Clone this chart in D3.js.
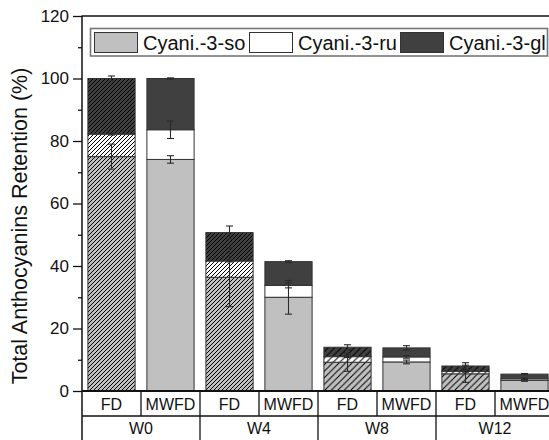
<!DOCTYPE html>
<html>
<head>
<meta charset="utf-8">
<script src="https://cdn.jsdelivr.net/npm/d3@7"></script>
<style>
  html, body { margin: 0; padding: 0; background: #fff; }
  svg { display: block; font-family: "Liberation Sans", Arial, sans-serif; }
</style>
</head>
<body>
<svg id="chart" width="549" height="440"></svg>
<script>
// Storage weeks and drying methods
const weeks = ["W0", "W4", "W8", "W12"];
const methods = ["FD", "MWFD"];
const seriesNames = ["Cyani.-3-so", "Cyani.-3-ru", "Cyani.-3-gl"];

// Retention contribution of each anthocyanin (%), ordered W0-FD, W0-MWFD, W4-FD, ...
const soValues = [75.0, 74.1, 36.4, 30.0, 9.2, 9.3, 5.5, 3.4];
const ruValues = [7.2, 9.5, 5.2, 3.8, 1.8, 1.6, 0.8, 0.5];
const glValues = [17.8, 16.4, 9.1, 7.6, 3.0, 2.9, 1.7, 1.5];

// Standard deviations, drawn at the cumulative top of each segment
const soErrors = [4.0, 1.2, 9.4, 5.4, 2.9, 0.6, 2.75, 0.3];
const ruErrors = [0.3, 2.8, 0.3, 0.8, 0.3, 0.4, 0.3, 0.2];
const glErrors = [0.8, 0.2, 2.1, 0.3, 0.8, 0.7, 1.06, 0.2];

const yTicks = [0, 20, 40, 60, 80, 100, 120];
const yMinorTicks = [10, 30, 50, 70, 90, 110];

const rows = [];
weeks.forEach((w, wi) => methods.forEach((m, mi) => {
  const i = wi * methods.length + mi;
  rows.push({
    key: w + "|" + m, week: w, method: m,
    "Cyani.-3-so": soValues[i], "Cyani.-3-ru": ruValues[i], "Cyani.-3-gl": glValues[i],
    err: [soErrors[i], ruErrors[i], glErrors[i]]
  });
}));

const svg = d3.select("#chart");
const plotLeft = 82, plotRight = 554, plotTop = 16, plotBottom = 391;
const row1 = 416, tableBottom = 440;

const x = d3.scaleBand().domain(rows.map(d => d.key)).range([plotLeft, plotRight])
  .paddingInner(0.2).paddingOuter(0.1);
const y = d3.scaleLinear().domain([0, 120]).range([plotBottom, plotTop]);

const fills = { "Cyani.-3-so": "#c0c0c0", "Cyani.-3-ru": "#ffffff", "Cyani.-3-gl": "#404040" };

// Diagonal hatching for the freeze-dried bars; coarser on the short bars
const defs = svg.append("defs");
function hatch(id, s) {
  const p = defs.append("pattern").attr("id", id)
    .attr("patternUnits", "userSpaceOnUse").attr("width", s).attr("height", s);
  p.append("path")
    .attr("d", `M0,${s} L${s},0 M-1,1 L1,-1 M${s - 1},${s + 1} L${s + 1},${s - 1}`)
    .attr("stroke", "#000").attr("stroke-width", 1).attr("fill", "none");
}
hatch("hatchFine", 4);
hatch("hatchCoarse", 6.5);
const hatchFor = { W0: "hatchFine", W4: "hatchFine", W8: "hatchCoarse", W12: "hatchCoarse" };

const stacked = d3.stack().keys(seriesNames)(rows);

const g = svg.append("g");
stacked.forEach((layer, li) => {
  const name = seriesNames[li];
  layer.forEach(seg => {
    const d = seg.data;
    const bx = x(d.key), bw = x.bandwidth();
    const by = y(seg[1]), bh = y(seg[0]) - y(seg[1]);
    g.append("rect").attr("x", bx).attr("y", by).attr("width", bw).attr("height", bh)
      .attr("fill", fills[name]);
    if (d.method === "FD") {
      g.append("rect").attr("x", bx).attr("y", by).attr("width", bw).attr("height", bh)
        .attr("fill", `url(#${hatchFor[d.week]})`);
    }
    g.append("rect").attr("x", bx).attr("y", by).attr("width", bw).attr("height", bh)
      .attr("fill", "none").attr("stroke", "#333").attr("stroke-width", 1);
  });
});

// Error bars
const eb = svg.append("g").attr("stroke", "#2a2a2a").attr("stroke-width", 1.1);
stacked.forEach((layer, li) => {
  layer.forEach(seg => {
    const d = seg.data;
    const cx = x(d.key) + x.bandwidth() / 2;
    const e = d.err[li];
    const y1 = y(seg[1] + e), y0 = y(seg[1] - e);
    eb.append("line").attr("x1", cx).attr("x2", cx).attr("y1", y1).attr("y2", y0);
    eb.append("line").attr("x1", cx - 3.5).attr("x2", cx + 3.5).attr("y1", y1).attr("y2", y1);
    eb.append("line").attr("x1", cx - 3.5).attr("x2", cx + 3.5).attr("y1", y0).attr("y2", y0);
  });
});

// Y axis
const yAxis = d3.axisLeft(y).tickValues(yTicks).tickSize(9).tickPadding(4).tickFormat(d3.format("d"));
const ya = svg.append("g").attr("transform", `translate(${plotLeft},0)`).call(yAxis);
ya.select(".domain").remove();
ya.selectAll(".tick line").attr("stroke", "#111").attr("stroke-width", 1.3);
ya.selectAll(".tick text").attr("font-size", 17).attr("fill", "#111")
  .attr("font-family", "Liberation Sans, Arial, sans-serif");
const yMinor = d3.axisLeft(y).tickValues(yMinorTicks).tickSize(4).tickFormat("");
const ym = svg.append("g").attr("transform", `translate(${plotLeft},0)`).call(yMinor);
ym.select(".domain").remove();
ym.selectAll(".tick line").attr("stroke", "#111").attr("stroke-width", 1.3);

// Frame: left axis, top border
svg.append("line").attr("x1", plotLeft).attr("x2", plotLeft).attr("y1", plotTop).attr("y2", tableBottom)
  .attr("stroke", "#111").attr("stroke-width", 1.5);
svg.append("line").attr("x1", plotLeft - 0.5).attr("x2", 549).attr("y1", plotTop).attr("y2", plotTop)
  .attr("stroke", "#111").attr("stroke-width", 1.5);

// Category table below the axis
const tbl = svg.append("g").attr("stroke", "#111");
tbl.append("line").attr("x1", plotLeft).attr("x2", 549).attr("y1", plotBottom).attr("y2", plotBottom).attr("stroke-width", 2.2);
tbl.append("line").attr("x1", plotLeft).attr("x2", 549).attr("y1", row1).attr("y2", row1).attr("stroke-width", 1.3);
const step = x.step();
const colStart = i => plotLeft + i * step;
rows.forEach((d, i) => {
  if (i === 0) return;
  const isGroupEdge = i % methods.length === 0;
  tbl.append("line").attr("x1", colStart(i)).attr("x2", colStart(i))
    .attr("y1", plotBottom).attr("y2", isGroupEdge ? tableBottom : row1).attr("stroke-width", 1.3);
});
const labels = svg.append("g").attr("fill", "#111").attr("font-size", 16).attr("text-anchor", "middle");
rows.forEach((d, i) => {
  labels.append("text").attr("x", colStart(i) + step / 2).attr("y", 409.5).text(d.method);
});
weeks.forEach((w, wi) => {
  labels.append("text").attr("x", colStart(wi * methods.length) + step * methods.length / 2)
    .attr("y", 433.5).text(w);
});

// Y axis title
svg.append("text").attr("transform", "rotate(-90)").attr("x", -226).attr("y", 27)
  .attr("text-anchor", "middle").attr("font-size", 21.5).attr("fill", "#111")
  .text("Total Anthocyanins Retention (%)");

// Legend
const lg = svg.append("g");
lg.append("rect").attr("x", 90.5).attr("y", 28.5).attr("width", 457).attr("height", 27.5)
  .attr("fill", "#fff").attr("stroke", "#777").attr("stroke-width", 1.6);
const legendX = [94.5, 249.5, 400.5];
seriesNames.forEach((name, i) => {
  lg.append("rect").attr("x", legendX[i]).attr("y", 32.5).attr("width", 43).attr("height", 20)
    .attr("fill", fills[name]).attr("stroke", "#333").attr("stroke-width", 1);
  lg.append("text").attr("x", legendX[i] + 48.5).attr("y", 49.5).attr("font-size", 20)
    .attr("fill", "#111").text(name);
});
</script>
</body>
</html>
